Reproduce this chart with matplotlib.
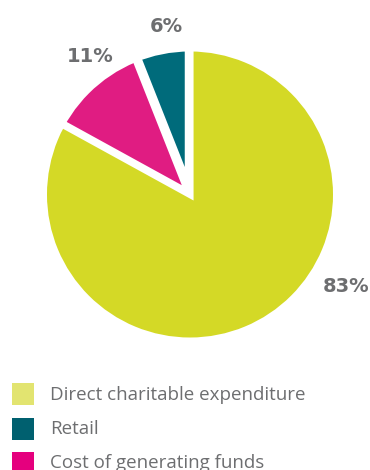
import matplotlib
matplotlib.use("Agg")
import matplotlib.pyplot as plt
from matplotlib.patches import Wedge, Rectangle

# data
labels = ["Direct charitable expenditure", "Cost of generating funds", "Retail"]
values = [83, 11, 6]
pct_labels = ["83%", "11%", "6%"]
slice_colors = ["#d4d926", "#e01c82", "#006b7b"]
legend_labels = ["Direct charitable expenditure", "Retail", "Cost of generating funds"]
legend_colors = ["#e2e470", "#00606f", "#e5007e"]

W, H = 370, 470
fig = plt.figure(figsize=(W / 100, H / 100), dpi=100)
ax = fig.add_axes([0, 0, 1, 1])

cx, cy, R = 190, H - 194.5, 143
explode = [7, 12.4, 28]
wedges, _ = ax.pie(values, colors=slice_colors, startangle=90, counterclock=False,
                   explode=explode, radius=R * 1.3, center=(cx, cy), frame=True,
                   wedgeprops=dict(linewidth=0))
ax.set_xlim(0, W)
ax.set_ylim(0, H)
ax.set_aspect("auto")
ax.axis("off")
# white mask outside the pie's outer circle
ax.add_patch(Wedge((cx, cy), R + 600, 0, 360, width=600, color="white", lw=0, zorder=3))

gray = "#6d6e70"
pct_pos = [(346, 286), (90, 56), (166, 27)]
for t, (px, py) in zip(pct_labels, pct_pos):
    ax.text(px, H - py, t, ha="center", va="center", fontsize=14,
            fontweight="bold", color=gray, family="DejaVu Sans", zorder=5)

for i, (lab, col) in enumerate(zip(legend_labels, legend_colors)):
    top = 383 + i * 34.5
    ax.add_patch(Rectangle((12, H - top - 22), 22, 22, color=col, lw=0, zorder=5))
    ax.text(50, H - top - 11.5, lab, ha="left", va="center", fontsize=13.5,
            color=gray, family="Open Sans", zorder=5)

fig.savefig("out.png", dpi=100)
